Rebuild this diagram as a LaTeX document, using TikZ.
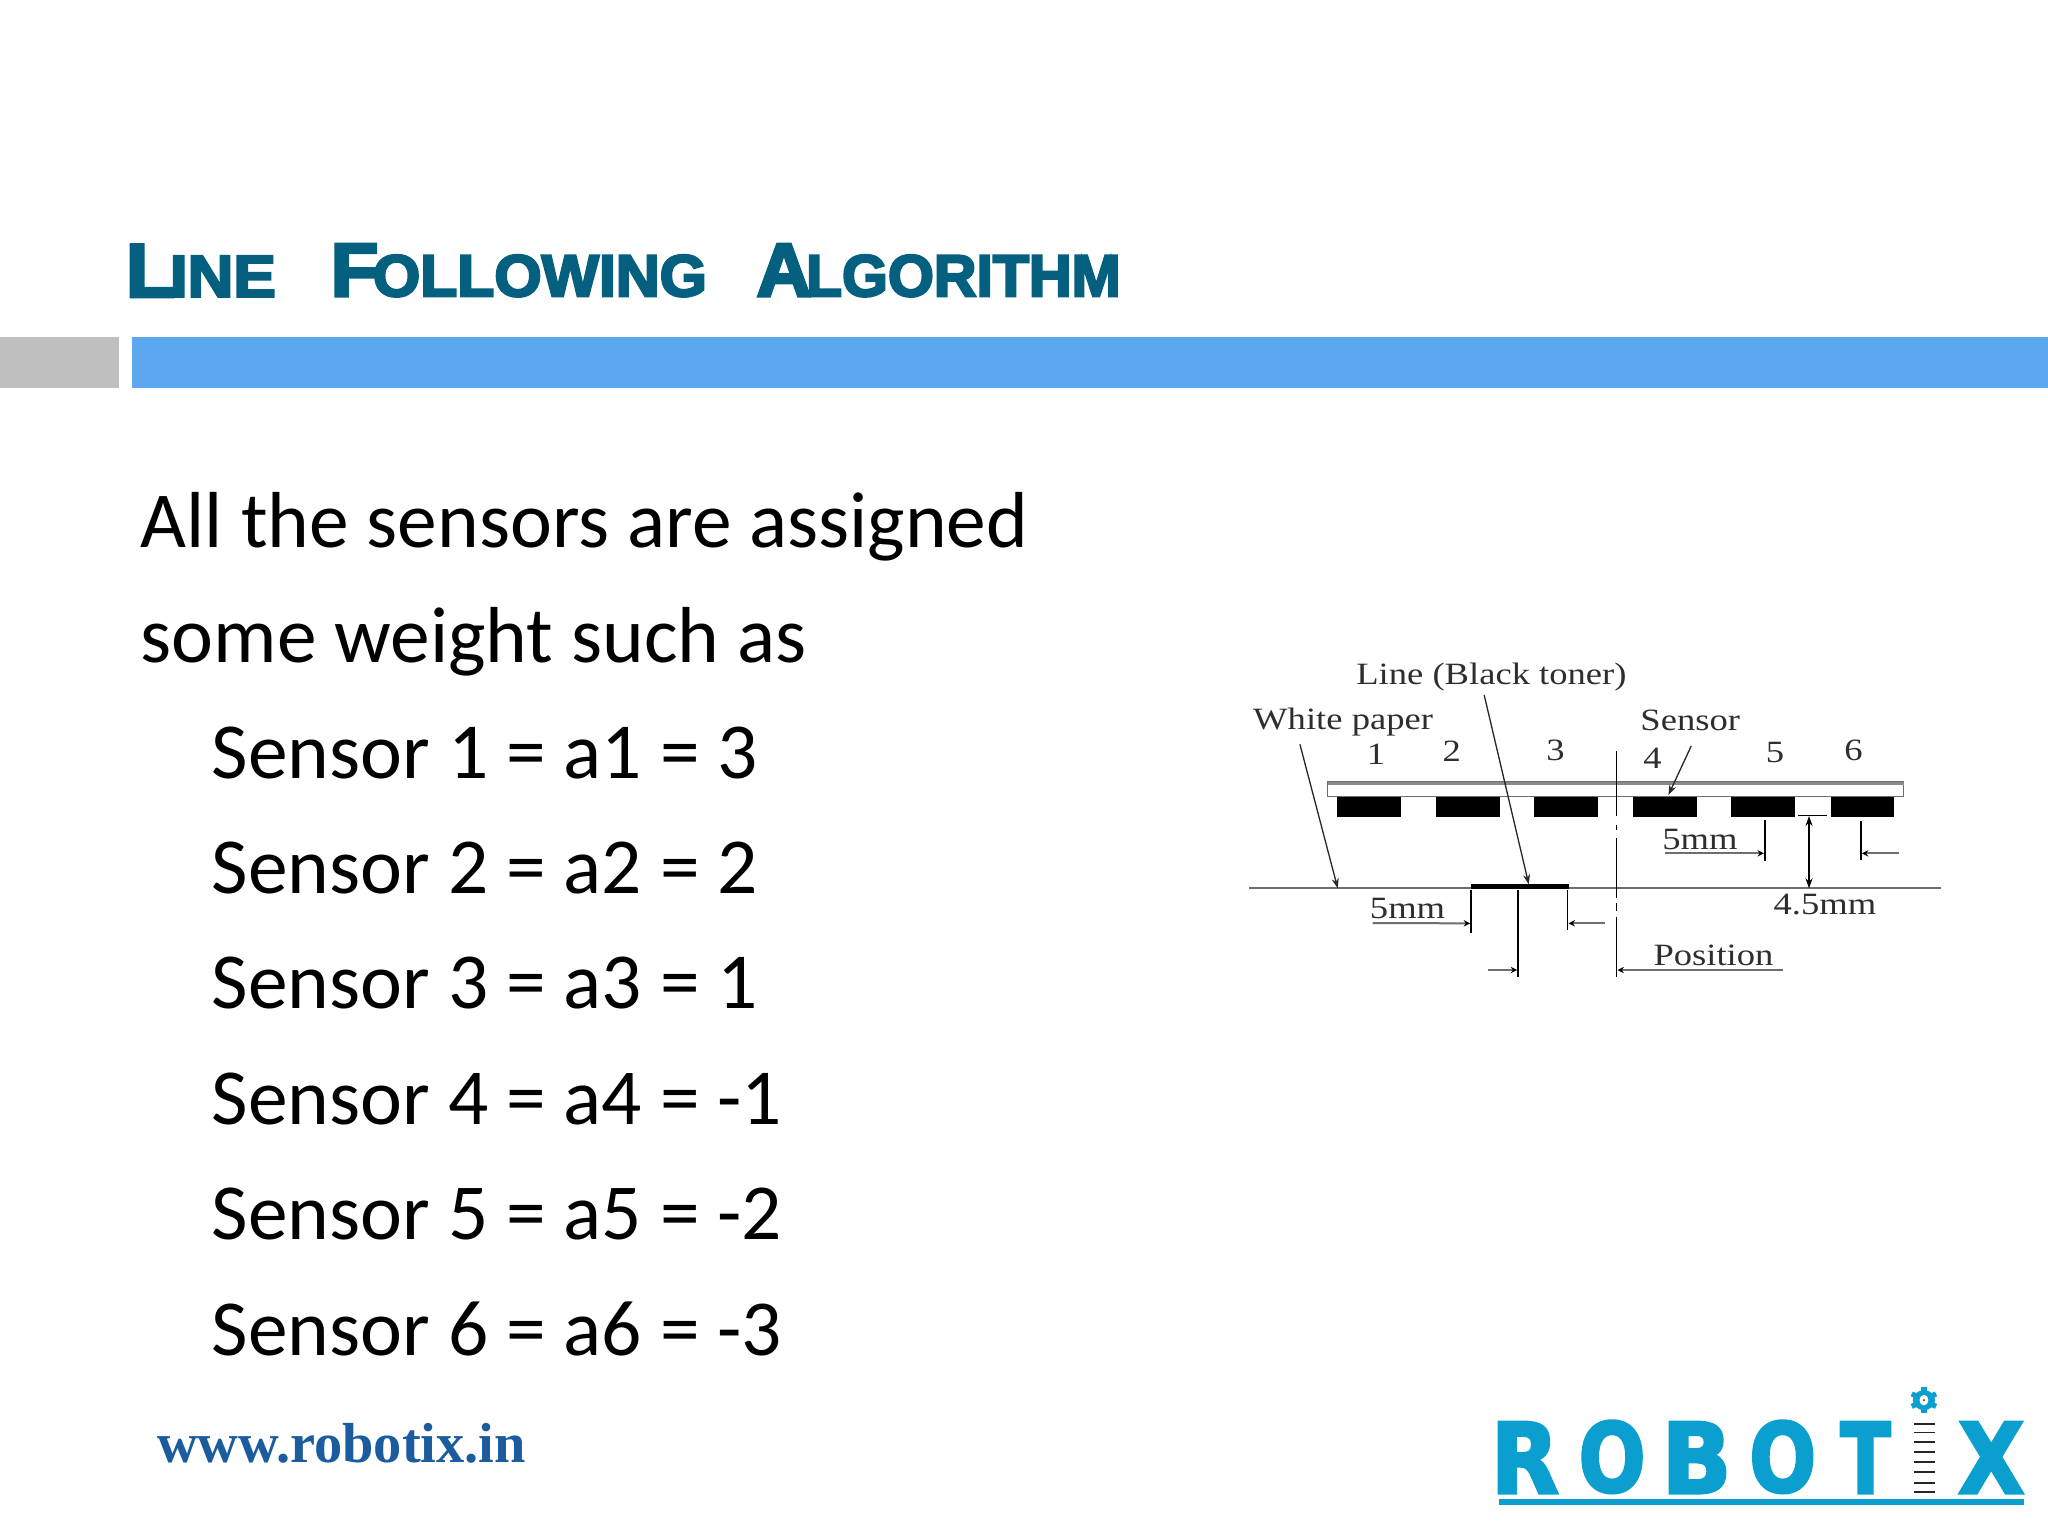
\documentclass[tikz,border=0pt]{standalone}
\usepackage{fontspec}
\usepackage{graphicx}
\usetikzlibrary{arrows.meta}
\setmainfont{Carlito}
\newfontfamily\ttlfont[FakeBold=4]{Liberation Sans Bold}
\newfontfamily\logofont[FakeBold=3]{DejaVu Sans Bold}
\newfontfamily\urlfont{Liberation Serif Bold}
\newfontfamily\diafont[FakeStretch=1.18]{Liberation Serif}
\definecolor{ttlblue}{HTML}{04607E}
\definecolor{barblue}{HTML}{5BA8F0}
\definecolor{bargray}{HTML}{BFBFBF}
\definecolor{urlblue}{HTML}{1B5C9E}
\definecolor{logoblue}{HTML}{0A9FCF}
\definecolor{diatext}{HTML}{2E2E2E}
\definecolor{dialine}{HTML}{6E6E6E}
\tikzset{
  bodytext/.style={anchor=base west,inner sep=0,font=\fontsize{39.7}{44}\selectfont,text=black},
  ttlword/.style={anchor=south west,inner sep=0,text=ttlblue},
  logoletter/.style={anchor=south west,inner sep=0,text=logoblue},
  dialabel/.style={inner sep=0,anchor=base,text=diatext,font=\diafont\fontsize{15.5}{18}\selectfont},
  leader/.style={draw=black!85,line width=.65pt,-{Stealth[length=5pt,width=3.5pt,open]}},
  tick/.style={draw=black,line width=.7pt},
  dimgray/.style={draw=dialine,line width=1pt,-{Stealth[length=3.2pt,width=3.2pt,color=black]}},
  senspad/.style={fill=black,draw=none},
  rung/.style={draw=black!85,line width=.85pt},
}
\newcommand{\ttlw}[4]{\resizebox{#1}{#2}{\ttlfont #3\kern-.07em\fontsize{7.8}{9}\selectfont #4}}
\newcommand{\logol}[3]{\resizebox{#1}{#2}{\logofont #3}}
\begin{document}
\begin{tikzpicture}[x=0.65306pt,y=-0.65306pt]
\useasboundingbox (0,0) rectangle (1568,1176);
\fill[white] (0,0) rectangle (1568,1176);
% header
\fill[bargray] (0,258) rectangle (91,297);
\fill[barblue] (101,258) rectangle (1568,297);
\node[ttlword] (t1) at (96,227.5) {\ttlw{75pt}{26pt}{\fontsize{10}{12}\selectfont L}{INE}};
\node[ttlword] (t2) at (253,227.5) {\ttlw{188pt}{26pt}{\fontsize{10}{12}\selectfont F}{OLLOWING}};
\node[ttlword] (t3) at (579,227.5) {\ttlw{182pt}{26pt}{\fontsize{10}{12}\selectfont A}{LGORITHM}};
% body
\node[bodytext] (b1) at (107.5,419.5) {All the sensors are assigned};
\node[bodytext] (b2) at (107.5,507.5) {some weight such as};
\node[bodytext] (s1) at (162,596) {Sensor 1 = a1 = 3};
\node[bodytext] (s2) at (162,684) {Sensor 2 = a2 = 2};
\node[bodytext] (s3) at (162,772.5) {Sensor 3 = a3 = 1};
\node[bodytext] (s4) at (162,861) {Sensor 4 = a4 = -1};
\node[bodytext] (s5) at (162,949) {Sensor 5 = a5 = -2};
\node[bodytext] (s6) at (162,1037.5) {Sensor 6 = a6 = -3};
\node[anchor=base west,inner sep=0,text=urlblue,font=\urlfont\fontsize{28.2}{32}\selectfont] (url) at (120,1119.5) {www.robotix.in};
% sensor diagram, in its own local grid
\begin{scope}[shift={(934,490)},xscale=.3712,yscale=.2552]
  % carrier strip
  \draw[draw=dialine,fill=white,line width=.7pt] (222,425) rectangle (1410,470);
  \draw[draw=dialine!80,line width=1.6pt] (222,430) -- (1410,430);
  \foreach \xa/\xb in {241/373,445/577,648/780,852/984,1055/1187,1260/1391}
    \fill[senspad] (\xa,470) rectangle (\xb,532);
  % ground and toner line
  \coordinate (gl) at (60,745); \coordinate (gr) at (1487,745);
  \draw[draw=dialine,line width=1.1pt] (gl) -- (gr);
  \fill[black] (517,732) rectangle (720,746);
  % centre line
  \draw[tick] (818,333) -- (818,528);
  \draw[tick] (818,555) -- (818,570);
  \draw[tick] (818,595) -- (818,775);
  \draw[tick] (818,790) -- (818,812);
  \draw[tick] (818,830) -- (818,1010);
  % labels
  \node[dialabel] (lwhite) at (254,268) {White paper};
  \node[dialabel] (lline) at (560,133) {Line (Black toner)};
  \node[dialabel] (lsens) at (970,272) {Sensor};
  \node[dialabel] (n1) at (322,372) {1};
  \node[dialabel] (n2) at (478,365) {2};
  \node[dialabel] (n3) at (692,362) {3};
  \node[dialabel] (n4) at (892,384) {4};
  \node[dialabel] (n5) at (1145,367) {5};
  \node[dialabel] (n6) at (1307,362) {6};
  % leaders
  \coordinate (wa) at (165,313); \coordinate (wb) at (243,745);
  \coordinate (la) at (545,165); \coordinate (lb) at (637,733);
  \coordinate (sa) at (972,318); \coordinate (sb) at (925,465);
  \draw[leader] (wa) -- (wb);
  \draw[leader] (la) -- (lb);
  \draw[leader] (sa) -- (sb);
  % right 5mm
  \node[dialabel] (m5a) at (990,628) {5mm};
  \coordinate (ra) at (918,640); \coordinate (rb) at (1122,640);
  \coordinate (rc) at (1400,640); \coordinate (rd) at (1324,640);
  \draw[tick] (1124,540) -- (1124,662);
  \draw[tick] (1322,542) -- (1322,660);
  \draw[dimgray] (ra) -- (rb);
  \draw[dimgray] (rc) -- (rd);
  % 4.5 mm
  \coordinate (ha) at (1215,528); \coordinate (hb) at (1215,745);
  \draw[tick] (1193,527) -- (1253,527);
  \draw[tick,{Stealth[length=5pt,width=3.5pt]}-{Stealth[length=5pt,width=3.5pt]}] (ha) -- (hb);
  \node[dialabel] (m45) at (1248,822) {4.5mm};
  % lower 5mm
  \node[dialabel] (m5b) at (387,836) {5mm};
  \coordinate (pa) at (315,849); \coordinate (pb) at (516,850);
  \coordinate (pc) at (795,850); \coordinate (pd) at (719,850);
  \coordinate (qa) at (553,990); \coordinate (qb) at (613,990);
  \draw[tick] (518,750) -- (518,878);
  \draw[tick] (717,750) -- (717,870);
  \draw[tick] (615,750) -- (615,1010);
  \draw[dimgray] (pa) -- (pb);
  \draw[dimgray] (pc) -- (pd);
  \draw[dimgray] (qa) -- (qb);
  % position
  \node[dialabel] (mpos) at (1018,976) {Position};
  \coordinate (ua) at (1162,990); \coordinate (ub) at (820,990);
  \draw[dimgray] (ua) -- (ub);
\end{scope}
% logo
\begin{scope}[shift={(1125.6,1049)},xscale=.2822,yscale=.2552]
  \node[logoletter] (lr) at (55,370) {\logol{34pt}{35.5pt}{R}};
  \node[logoletter] (lo1) at (293,370) {\logol{33.5pt}{35.5pt}{O}};
  \node[logoletter] (lb) at (518,370) {\logol{35pt}{35.5pt}{B}};
  \node[logoletter] (lo2) at (756,370) {\logol{33.5pt}{35.5pt}{O}};
  \node[logoletter] (lt) at (1003,370) {\logol{25.2pt}{35.5pt}{T}};
  \node[logoletter] (lx) at (1323,370) {\logol{33pt}{35.5pt}{X}};
  \foreach \yy in {162,187,216,245,276,306,338,366}
    \draw[rung] (1203,\yy) -- (1262,\yy);
  \fill[logoblue] (78,388) rectangle (1503,404);
  % gear
  \fill[logoblue] (1231,90) ellipse (30 and 30);
  \foreach \aa in {0,60,...,300}
    \draw[draw=logoblue,line width=2.6pt] (1231,90) -- ++(\aa+30:38);
  \fill[white] (1231,90) ellipse (12 and 16);
  \fill[black!70] (1231,90) ellipse (3 and 4);
\end{scope}
\end{tikzpicture}
\end{document}
